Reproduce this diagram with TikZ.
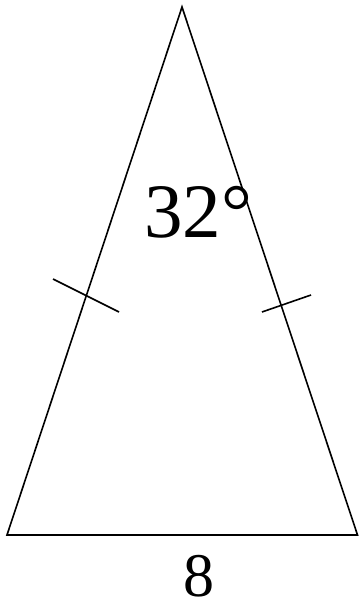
\documentclass[tikz,border=0pt]{standalone}
\usepackage{fontspec}
\setmainfont{Liberation Serif}
\begin{document}
\begin{tikzpicture}[x=1pt,y=-1pt,
  edge/.style={line width=1.6pt,line join=miter},
  tick/.style={line width=1.6pt},
  lbl/.style={inner sep=0pt,anchor=base west}]
\useasboundingbox (0,0) rectangle (359,604);
\coordinate (A) at (182,7);
\coordinate (B) at (7,535);
\coordinate (C) at (357.5,535);
\draw[edge] (A) -- (B) -- (C) -- cycle;
\coordinate (t1a) at (53,279);
\coordinate (t1b) at (119,312);
\coordinate (t2a) at (262,312);
\coordinate (t2b) at (311,295);
\draw[tick] (t1a) -- (t1b);
\draw[tick] (t2a) -- (t2b);
\node[lbl,font=\fontsize{77}{80}\selectfont] (ang) at (144,237) {32°};
\node[lbl,anchor=base,font=\fontsize{62}{66}\selectfont] (base) at (199,596) {8};
\end{tikzpicture}
\end{document}
